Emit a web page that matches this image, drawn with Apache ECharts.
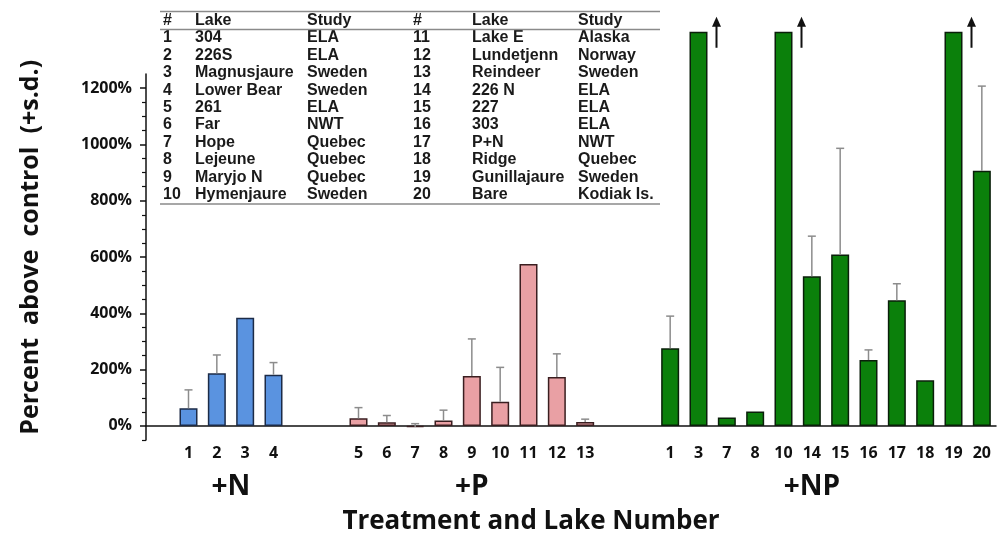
<!DOCTYPE html>
<html><head><meta charset="utf-8">
<script src="https://cdn.jsdelivr.net/npm/echarts@6/dist/echarts.min.js"></script>
<style>html,body{margin:0;padding:0;background:#fff}#c{width:1007px;height:540px}</style>
</head><body><div id="c"></div>
<script>
// ---------- data ----------
const nLakes = [1, 2, 3, 4];
const nMeans = [63, 187, 384, 182];
const nSD = [65, 65, 0, 43];

const pLakes = [5, 6, 7, 8, 9, 10, 11, 12, 13];
const pMeans = [27, 13, -4, 19, 177, 86, 575, 174, 14];
const pSD = [38, 24, 12, 37, 132, 122, 0, 82, 10];

const npLakes = [1, 3, 7, 8, 10, 14, 15, 16, 17, 18, 19, 20];
const npMeans = [276, 1400, 30, 51, 1400, 532, 609, 234, 446, 162, 1400, 906];
const npSD = [114, 0, 0, 0, 0, 142, 377, 36, 59, 0, 0, 301];
const npOffScale = [3, 10, 19];

const groupNames = ['+N', '+P', '+NP'];
const yTickValues = [0, 200, 400, 600, 800, 1000, 1200];
const yMinorTickValues = [-50, 50, 100, 150, 250, 300, 350, 450, 500, 550, 650, 700, 750, 850, 900, 950, 1050, 1100, 1150];

const tableNums = [1,2,3,4,5,6,7,8,9,10,11,12,13,14,15,16,17,18,19,20];
const tableLakes = ['304','226S','Magnusjaure','Lower Bear','261','Far','Hope','Lejeune','Maryjo N','Hymenjaure',
  'Lake E','Lundetjenn','Reindeer','226 N','227','303','P+N','Ridge','Gunillajaure','Bare'];
const tableStudies = ['ELA','ELA','Sweden','Sweden','ELA','NWT','Quebec','Quebec','Quebec','Sweden',
  'Alaska','Norway','Sweden','ELA','ELA','ELA','NWT','Quebec','Sweden','Kodiak Is.'];

// ---------- build ----------
const groups = [
  {key: 'N', lakes: nLakes, means: nMeans, sd: nSD, fill: '#5a93e0', border: '#1c2b47'},
  {key: 'P', lakes: pLakes, means: pMeans, sd: pSD, fill: '#e9a0a4', border: '#3a1e20'},
  {key: 'NP', lakes: npLakes, means: npMeans, sd: npSD, fill: '#0b800b', border: '#0a1f0a'}
];
const cats = ['gap-0'];
const barData = ['-'];
const errData = [];
const arrowData = [];
const groupSlots = [];
let gapId = 1;
groups.forEach((g, gi) => {
  if (gi > 0) {
    for (let k = 0; k < 2; k++) { cats.push('gap-' + (gapId++)); barData.push('-'); }
  }
  const first = cats.length;
  g.lakes.forEach((lk, i) => {
    const idx = cats.length;
    cats.push(g.key + '-' + lk);
    barData.push({value: g.means[i], itemStyle: {color: g.fill, borderColor: g.border}});
    if (g.sd[i] > 0) errData.push([idx, g.means[i], g.sd[i]]);
    if (g.key === 'NP' && npOffScale.indexOf(lk) >= 0) arrowData.push([idx, g.means[i]]);
  });
  const last = cats.length - 1;
  groupSlots.push(g.key === 'NP' ? first + g.lakes.indexOf(14) : (first + last) / 2);
});

const graphics = [];
const tFont = 'bold 16px "Liberation Sans", Arial, sans-serif';
const colX = [[163, 195, 307], [413, 472, 578]];
const headers = ['#', 'Lake', 'Study'];
colX.forEach(cx => headers.forEach((h, j) => graphics.push({type: 'text', x: cx[j], y: 20.5,
  style: {text: h, font: tFont, fill: '#1a1a1a', verticalAlign: 'middle'}})));
tableNums.forEach((n, i) => {
  const side = i < 10 ? 0 : 1;
  const row = i % 10;
  const y = 38 + row * 17.4;
  [String(n), tableLakes[i], tableStudies[i]].forEach((t, j) => graphics.push({type: 'text', x: colX[side][j], y: y,
    style: {text: t, font: tFont, fill: '#1a1a1a', verticalAlign: 'middle'}}));
});
[11.5, 29.5, 204].forEach(y => graphics.push({type: 'line', shape: {x1: 160, y1: y, x2: 660, y2: y},
  style: {stroke: '#8a8a8a', lineWidth: 1.5}}));
graphics.push({type: 'text', x: 531, y: 522, style: {text: 'Treatment and Lake Number',
  font: 'bold 26px "Open Sans", sans-serif', fill: '#111', align: 'center', verticalAlign: 'middle'}});

const chart = echarts.init(document.getElementById('c'));
chart.setOption({
  animation: false,
  backgroundColor: '#fff',
  grid: {left: 146, width: 850, top: 74, height: 366},
  xAxis: [{
    type: 'category', data: cats,
    axisLine: {onZero: true, lineStyle: {color: '#111', width: 1.5}},
    axisTick: {show: false},
    axisLabel: {interval: 0, margin: 5, color: '#111', fontFamily: 'Open Sans', fontWeight: 'bold', fontSize: 16,
      formatter: v => v.indexOf('gap') === 0 ? '' : v.split('-')[1]}
  }, {
    type: 'value', min: -0.5, max: cats.length - 0.5, position: 'bottom',
    axisLine: {show: false, onZero: false}, axisTick: {show: false}, splitLine: {show: false},
    axisLabel: {customValues: groupSlots, margin: 33, color: '#111', fontFamily: 'Open Sans', fontWeight: 'bold', fontSize: 28,
      formatter: v => groupNames[groupSlots.indexOf(v)] || ''}
  }],
  yAxis: [{
    type: 'value', min: -50, max: 1250,
    name: '   Percent  above  control  (+s.d.)', nameLocation: 'middle', nameGap: 103,
    nameTextStyle: {fontFamily: 'Open Sans', fontWeight: 'bold', fontSize: 25, color: '#111'},
    axisLine: {show: true, onZero: false, lineStyle: {color: '#111', width: 1.5}},
    axisTick: {show: true, customValues: yTickValues, length: 6, lineStyle: {color: '#111', width: 1.5}},
    axisLabel: {customValues: yTickValues, margin: 14, color: '#111', fontFamily: 'Open Sans', fontWeight: 'bold', fontSize: 16,
      formatter: v => v + '%'},
    splitLine: {show: false}
  }, {
    type: 'value', min: -50, max: 1250, position: 'left',
    axisLine: {show: false, onZero: false}, splitLine: {show: false}, axisLabel: {show: false},
    axisTick: {show: true, customValues: yMinorTickValues, length: 4, lineStyle: {color: '#111', width: 1.2}}
  }],
  series: [{
    type: 'bar', data: barData, barWidth: 18, clip: false,
    itemStyle: {borderWidth: 1.5}
  }, {
    type: 'custom', data: errData, clip: false, z: 3,
    encode: {x: 0, y: 1},
    renderItem: (params, api) => {
      const b = api.coord([api.value(0), api.value(1)]);
      const t = api.coord([api.value(0), api.value(1) + api.value(2)]);
      const st = {stroke: '#8c8c8c', lineWidth: 1.5};
      return {type: 'group', children: [
        {type: 'line', shape: {x1: b[0], y1: b[1], x2: t[0], y2: t[1]}, style: st},
        {type: 'line', shape: {x1: t[0] - 4, y1: t[1], x2: t[0] + 4, y2: t[1]}, style: st}
      ]};
    }
  }, {
    type: 'custom', data: arrowData, clip: false, z: 3,
    encode: {x: 0, y: 1},
    renderItem: (params, api) => {
      const p = api.coord([api.value(0), api.value(1)]);
      const x = p[0] + 18, y = p[1];
      return {type: 'group', children: [
        {type: 'line', shape: {x1: x, y1: y + 16, x2: x, y2: y - 8}, style: {stroke: '#111', lineWidth: 2}},
        {type: 'polygon', shape: {points: [[x, y - 15], [x - 4.5, y - 5], [x + 4.5, y - 5]]}, style: {fill: '#111'}}
      ]};
    }
  }],
  graphic: graphics
});
</script></body></html>
